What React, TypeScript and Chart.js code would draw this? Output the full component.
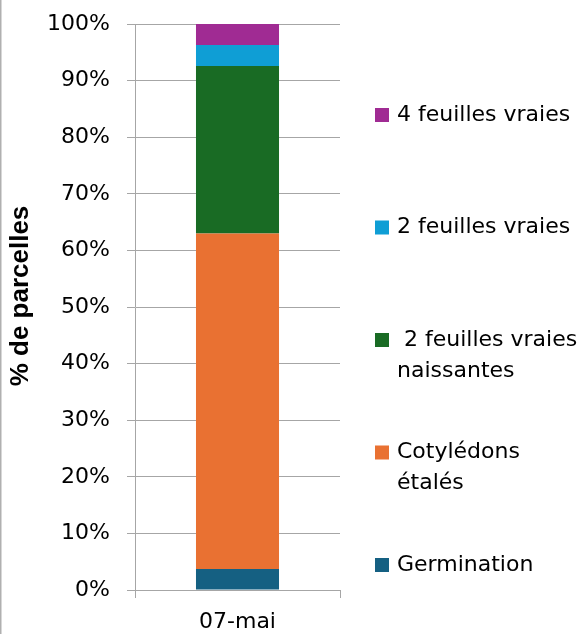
import React, { useEffect, useRef } from "react";
import { Chart, registerables } from "chart.js";

Chart.register(...registerables);

// ---- Data ----
const categories = ["07-mai"];
const germination = [3.7];
const cotyledons = [59.3];
const naissantes = [29.6];
const deuxFeuilles = [3.7];
const quatreFeuilles = [3.7];
const seriesLabels = [
  "Germination",
  "Cotylédons étalés",
  " 2 feuilles vraies naissantes",
  "2 feuilles vraies",
  "4 feuilles vraies",
];
// legend text split on lines as in the reference
const legendLines = [
  ["Germination"],
  ["Cotylédons", "étalés"],
  [" 2 feuilles vraies", "naissantes"],
  ["2 feuilles vraies"],
  ["4 feuilles vraies"],
];
const seriesColors = ["#156082", "#E97132", "#196B24", "#0F9ED5", "#A02B93"];
const yAxisTitle = "% de parcelles";
const yMin = 0;
const yMax = 100;
const yStep = 10;

const FONT = "'DejaVu Sans', sans-serif";
const TITLE_FONT = "'Liberation Sans', Arial, sans-serif";
const AXIS_GRAY = "#A6A6A6";

const decorPlugin = {
  id: "decor",
  afterDraw(chart: any) {
    const ctx = chart.ctx;
    ctx.save();
    // left frame line
    ctx.fillStyle = "#B0B0B0";
    ctx.fillRect(0, 0, 1.5, chart.height);

    // y axis title
    ctx.fillStyle = "#000";
    ctx.font = `bold 26px ${TITLE_FONT}`;
    ctx.textAlign = "center";
    ctx.textBaseline = "middle";
    ctx.translate(21, 296);
    ctx.rotate(-Math.PI / 2);
    ctx.fillText(yAxisTitle, 0, 0);
    ctx.restore();

    // legend (top entry = last series)
    ctx.save();
    const n = legendLines.length;
    const firstY = 115;
    const gap = 112.5;
    const lineH = 31;
    ctx.font = `22px ${FONT}`;
    ctx.textBaseline = "middle";
    ctx.textAlign = "left";
    for (let k = 0; k < n; k++) {
      const i = n - 1 - k;
      const y = firstY + k * gap;
      ctx.fillStyle = seriesColors[i];
      ctx.fillRect(375, y - 7, 14, 14);
      ctx.fillStyle = "#000";
      legendLines[i].forEach((line, j) => {
        ctx.fillText(line, 397, y + j * lineH);
      });
    }
    ctx.restore();
  },
};

export default function App() {
  const ref = useRef<HTMLCanvasElement | null>(null);

  useEffect(() => {
    if (!ref.current) return;
    const values = [germination, cotyledons, naissantes, deuxFeuilles, quatreFeuilles];
    const chart = new Chart(ref.current, {
      type: "bar",
      data: {
        labels: categories,
        datasets: values.map((d, i) => ({
          label: seriesLabels[i],
          data: d,
          backgroundColor: seriesColors[i],
          borderWidth: 0,
          barPercentage: 0.405,
          categoryPercentage: 1,
        })),
      },
      options: {
        animation: false,
        responsive: false,
        devicePixelRatio: 1,
        layout: { padding: { top: 24, right: 240, bottom: 0, left: 0 } },
        plugins: {
          legend: { display: false },
          tooltip: { enabled: false },
        },
        scales: {
          x: {
            stacked: true,
            grid: {
              display: true,
              drawOnChartArea: false,
              drawTicks: true,
              tickLength: 8,
              color: AXIS_GRAY,
              offset: true,
            },
            border: { display: true, color: AXIS_GRAY, width: 1 },
            ticks: { font: { family: FONT, size: 22 }, color: "#000", padding: 11 },
            afterFit: (s: any) => {
              s.height = 44;
              s.paddingLeft = 0;
              s.paddingRight = 0;
            },
          },
          y: {
            stacked: true,
            min: yMin,
            max: yMax,
            ticks: {
              stepSize: yStep,
              callback: (v: any) => v + "%",
              font: { family: FONT, size: 22 },
              color: "#000",
              padding: 17,
            },
            grid: { color: AXIS_GRAY, tickLength: 8 },
            border: { color: AXIS_GRAY },
            afterFit: (s: any) => {
              s.width = 135;
              s.paddingTop = 0;
              s.paddingBottom = 0;
            },
          },
        },
      },
      plugins: [decorPlugin],
    });
    return () => chart.destroy();
  }, []);

  return (
    <div style={{ position: "fixed", left: 0, top: 0, width: 580, height: 634, background: "#fff" }}>
      <canvas ref={ref} width={580} height={634} style={{ width: 580, height: 634, display: "block" }} />
    </div>
  );
}
